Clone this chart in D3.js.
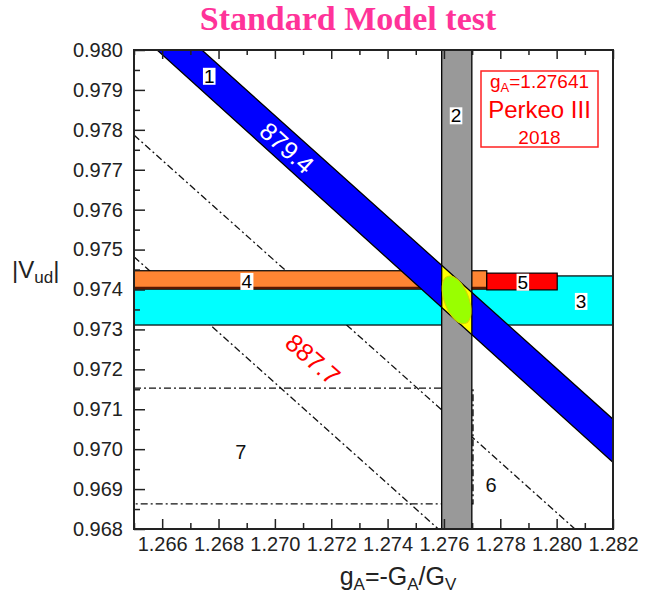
<!DOCTYPE html>
<html>
<head>
<meta charset="utf-8">
<script src="https://cdn.jsdelivr.net/npm/d3@7"></script>
<style>
  body { margin: 0; background: #fff; }
  text { font-family: "Liberation Sans", Arial, sans-serif; }
</style>
</head>
<body>
<script>
// axis ranges and ticks
var gRange = [1.265, 1.282];
var vRange = [0.968, 0.980];
var gTicks = [1.266, 1.268, 1.270, 1.272, 1.274, 1.276, 1.278, 1.280, 1.282];
var gMinor = [1.265, 1.267, 1.269, 1.271, 1.273, 1.275, 1.277, 1.279, 1.281];
var vTicks = [0.968, 0.969, 0.970, 0.971, 0.972, 0.973, 0.974, 0.975, 0.976, 0.977, 0.978, 0.979, 0.980];
var vMinor = [0.9685, 0.9695, 0.9705, 0.9715, 0.9725, 0.9735, 0.9745, 0.9755, 0.9765, 0.9775, 0.9785, 0.9795];

// band 1 : lifetime 879.4 s (edges as [gA, Vud] end points)
var band1Upper = [[1.26741, 0.980], [1.282, 0.97075]];
var band1Lower = [[1.26582, 0.980], [1.282, 0.96967]];
// band 2 : Perkeo III gA
var band2G = [1.27592, 1.27699];
// band 3 : superallowed Vud
var band3V = [0.97311, 0.97434];
// band 4 and 5
var band4G = [1.265, 1.27752];
var band4V = [0.97401, 0.97447];
var band5G = [1.27752, 1.28002];
var band5V = [0.97399, 0.97441];
// lifetime 887.7 s lines
var line887Upper = [[1.265, 0.97787], [1.28065, 0.968]];
var line887Lower = [[1.265, 0.97482], [1.27580, 0.968]];
// region 7 box
var box7G = [1.265, 1.27703];
var box7V = [0.96863, 0.97153];
// overlap ellipse
var ellCenter = [1.27645, 0.97374];
var ellHalf = [0.00043, 0.00063];

// region labels
var boxLabels = ["1", "2", "3", "4", "5"];
var boxLabelG = [1.26767, 1.27643, 1.28087, 1.26900, 1.27880];
var boxLabelV = [0.97935, 0.97836, 0.97371, 0.97421, 0.97419];
var plainLabels = ["6", "7"];
var plainLabelG = [1.27767, 1.26879];
var plainLabelV = [0.96910, 0.96993];

var W = 660, H = 600;
var pl = 134, pt = 50, size = 479;

var x = d3.scaleLinear().domain(gRange).range([pl, pl + size]);
var y = d3.scaleLinear().domain(vRange).range([pt + size, pt]);

var svg = d3.select("body").append("svg")
    .attr("width", W)
    .attr("height", H);

var defs = svg.append("defs");
defs.append("clipPath").attr("id", "plotclip")
  .append("rect")
    .attr("x", pl).attr("y", pt)
    .attr("width", size).attr("height", size);
defs.append("clipPath").attr("id", "greyclip")
  .append("rect")
    .attr("x", x(band2G[0])).attr("y", pt)
    .attr("width", x(band2G[1]) - x(band2G[0])).attr("height", size);

var plot = svg.append("g").attr("clip-path", "url(#plotclip)");

var dashDot = "7,3,2,3";

// dash-dot lifetime lines
[line887Upper, line887Lower].forEach(function(l) {
  plot.append("line")
    .attr("x1", x(l[0][0])).attr("y1", y(l[0][1]))
    .attr("x2", x(l[1][0])).attr("y2", y(l[1][1]))
    .attr("stroke", "#111")
    .attr("stroke-width", 1.3)
    .attr("stroke-dasharray", dashDot);
});

// region 7 box
plot.append("rect")
  .attr("x", x(box7G[0])).attr("y", y(box7V[1]))
  .attr("width", x(box7G[1]) - x(box7G[0]))
  .attr("height", y(box7V[0]) - y(box7V[1]))
  .attr("fill", "none")
  .attr("stroke", "#111")
  .attr("stroke-width", 1.4)
  .attr("stroke-dasharray", dashDot);

// band 3 (cyan)
plot.append("rect")
  .attr("x", x(gRange[0]) - 2).attr("y", y(band3V[1]))
  .attr("width", size + 4)
  .attr("height", y(band3V[0]) - y(band3V[1]))
  .attr("fill", "#00ffff")
  .attr("stroke", "#000")
  .attr("stroke-width", 1.2);

// band 4 (orange)
plot.append("rect")
  .attr("x", x(band4G[0]) - 2).attr("y", y(band4V[1]))
  .attr("width", x(band4G[1]) - x(band4G[0]) + 2)
  .attr("height", y(band4V[0]) - y(band4V[1]))
  .attr("fill", "#ff8533")
  .attr("stroke", "#000")
  .attr("stroke-width", 1.2);
plot.append("line")
  .attr("x1", x(band4G[0])).attr("x2", x(band4G[1]))
  .attr("y1", y(band4V[0]) - 1).attr("y2", y(band4V[0]) - 1)
  .attr("stroke", "#5a1800")
  .attr("stroke-width", 2.5);

// band 5 (red)
plot.append("rect")
  .attr("x", x(band5G[0])).attr("y", y(band5V[1]))
  .attr("width", x(band5G[1]) - x(band5G[0]))
  .attr("height", y(band5V[0]) - y(band5V[1]))
  .attr("fill", "#ff0000")
  .attr("stroke", "#000")
  .attr("stroke-width", 1.2);

// band 1 (blue)
var band1Pts = band1Upper.concat(band1Lower.slice().reverse());
var poly = d3.line()
  .x(function(d) { return x(d[0]); })
  .y(function(d) { return y(d[1]); });

plot.append("path")
  .attr("d", poly(band1Pts) + "Z")
  .attr("fill", "#0000ff")
  .attr("stroke", "#000")
  .attr("stroke-width", 1.3);

// band 2 (grey)
plot.append("rect")
  .attr("x", x(band2G[0])).attr("y", pt - 2)
  .attr("width", x(band2G[1]) - x(band2G[0]))
  .attr("height", size + 4)
  .attr("fill", "#999999");

// overlap of band 1 and band 2
plot.append("g").attr("clip-path", "url(#greyclip)")
  .append("path")
  .attr("d", poly(band1Pts) + "Z")
  .attr("fill", "#ffff00")
  .attr("stroke", "#000")
  .attr("stroke-width", 1.3);

band2G.forEach(function(g) {
  plot.append("line")
    .attr("x1", x(g)).attr("x2", x(g))
    .attr("y1", pt).attr("y2", pt + size)
    .attr("stroke", "#000")
    .attr("stroke-width", 1.3);
});

// ellipse
plot.append("ellipse")
  .attr("cx", 0).attr("cy", 0)
  .attr("rx", x(ellCenter[0] + ellHalf[0]) - x(ellCenter[0]))
  .attr("ry", y(ellCenter[1]) - y(ellCenter[1] + ellHalf[1]))
  .attr("transform", "translate(" + x(ellCenter[0]) + "," + y(ellCenter[1]) + ") rotate(-21)")
  .attr("fill", "#99ff00")
  .attr("stroke", "#d6d600")
  .attr("stroke-width", 1);

// boxed labels
boxLabels.forEach(function(t, i) {
  var g = plot.append("g");
  var txt = g.append("text")
    .attr("x", x(boxLabelG[i])).attr("y", y(boxLabelV[i]))
    .attr("dy", "0.36em")
    .attr("text-anchor", "middle")
    .attr("font-size", 19)
    .attr("fill", "#000")
    .text(t);
  var bb = txt.node().getBBox();
  g.insert("rect", "text")
    .attr("x", bb.x - 1).attr("y", bb.y + 2)
    .attr("width", bb.width + 2).attr("height", bb.height - 4)
    .attr("fill", "#fff");
});

plainLabels.forEach(function(t, i) {
  plot.append("text")
    .attr("x", x(plainLabelG[i])).attr("y", y(plainLabelV[i]))
    .attr("dy", "0.36em")
    .attr("text-anchor", "middle")
    .attr("font-size", 20)
    .attr("fill", "#111")
    .text(t);
});

// lifetime labels along the bands
plot.append("text")
  .attr("transform", "translate(" + x(1.27043) + "," + y(0.97755) + ") rotate(42)")
  .attr("dy", "0.36em")
  .attr("text-anchor", "middle")
  .attr("font-size", 25)
  .attr("fill", "#fff")
  .text("879.4");

plot.append("text")
  .attr("transform", "translate(" + x(1.27135) + "," + y(0.97226) + ") rotate(41)")
  .attr("dy", "0.36em")
  .attr("text-anchor", "middle")
  .attr("font-size", 25)
  .attr("fill", "#ff0000")
  .text("887.7");

// legend box
var lx0 = 481, ly0 = 71, lw = 117, lh = 76;
svg.append("rect")
  .attr("x", lx0).attr("y", ly0)
  .attr("width", lw).attr("height", lh)
  .attr("fill", "#fff")
  .attr("stroke", "#ff2020")
  .attr("stroke-width", 1.5);
var lcx = lx0 + lw / 2;
var l1 = svg.append("text")
  .attr("x", lcx).attr("y", 88)
  .attr("text-anchor", "middle")
  .attr("font-size", 19)
  .attr("fill", "#ff0000");
l1.append("tspan").text("g");
l1.append("tspan").attr("font-size", 13).attr("dy", 4).text("A");
l1.append("tspan").attr("dy", -4).text("=1.27641");
svg.append("text")
  .attr("x", lcx).attr("y", 118)
  .attr("text-anchor", "middle")
  .attr("font-size", 24)
  .attr("fill", "#ff0000")
  .text("Perkeo III");
svg.append("text")
  .attr("x", lcx).attr("y", 144)
  .attr("text-anchor", "middle")
  .attr("font-size", 19)
  .attr("fill", "#ff0000")
  .text("2018");

// axes
var axisColor = "#222";
var fmt = d3.format(".3f");

svg.append("g")
  .attr("transform", "translate(0," + (pt + size) + ")")
  .call(d3.axisBottom(x).tickValues(gTicks).tickFormat(fmt).tickSize(-10).tickPadding(8));
svg.append("g")
  .attr("transform", "translate(0," + (pt + size) + ")")
  .call(d3.axisBottom(x).tickValues(gMinor).tickFormat("").tickSize(-6));
svg.append("g")
  .attr("transform", "translate(0," + pt + ")")
  .call(d3.axisTop(x).tickValues(gTicks).tickFormat("").tickSize(-9));
svg.append("g")
  .attr("transform", "translate(0," + pt + ")")
  .call(d3.axisTop(x).tickValues(gMinor).tickFormat("").tickSize(-5));

svg.append("g")
  .attr("transform", "translate(" + pl + ",0)")
  .call(d3.axisLeft(y).tickValues(vTicks).tickFormat(fmt).tickSize(-11).tickPadding(11));
svg.append("g")
  .attr("transform", "translate(" + pl + ",0)")
  .call(d3.axisLeft(y).tickValues(vMinor).tickFormat("").tickSize(-6));

svg.selectAll(".domain").remove();
svg.selectAll(".tick line").attr("stroke", axisColor).attr("stroke-width", 1.5);
svg.selectAll(".tick text")
  .attr("font-size", 20)
  .attr("fill", "#222")
  .attr("font-family", "'Liberation Sans', Arial, sans-serif");

// frame
svg.append("rect")
  .attr("x", pl).attr("y", pt)
  .attr("width", size).attr("height", size)
  .attr("fill", "none")
  .attr("stroke", axisColor)
  .attr("stroke-width", 2);

// title
svg.append("text")
  .attr("x", 348).attr("y", 30)
  .attr("text-anchor", "middle")
  .attr("font-weight", "bold")
  .attr("font-size", 34)
  .attr("fill", "#ff3399")
  .style("font-family", "'Liberation Serif', 'Times New Roman', serif")
  .text("Standard Model test");

// axis titles
var yl = svg.append("text")
  .attr("x", 12).attr("y", 278)
  .attr("font-size", 24)
  .attr("fill", "#222");
yl.append("tspan").text("|V");
yl.append("tspan").attr("font-size", 17).attr("dy", 5).text("ud");
yl.append("tspan").attr("dy", -5).text("|");

var xl = svg.append("text")
  .attr("x", 398).attr("y", 585)
  .attr("text-anchor", "middle")
  .attr("font-size", 25)
  .attr("fill", "#222");
xl.append("tspan").text("g");
xl.append("tspan").attr("font-size", 17).attr("dy", 5).text("A");
xl.append("tspan").attr("dy", -5).text("=-G");
xl.append("tspan").attr("font-size", 17).attr("dy", 5).text("A");
xl.append("tspan").attr("dy", -5).text("/G");
xl.append("tspan").attr("font-size", 17).attr("dy", 5).text("V");
</script>
</body>
</html>
